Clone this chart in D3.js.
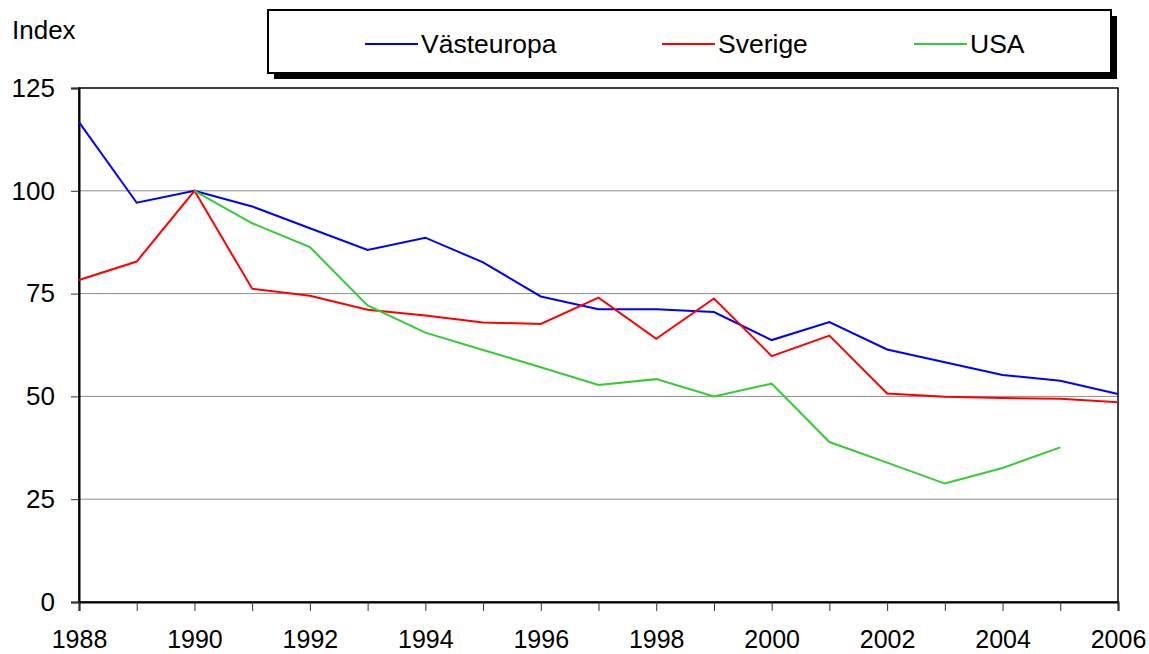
<!DOCTYPE html>
<html>
<head>
<meta charset="utf-8">
<script src="https://cdn.jsdelivr.net/npm/d3@7"></script>
<style>
  body { margin: 0; background: #fff; }
  text { font-family: "Liberation Sans", Arial, sans-serif; fill: #000; }
</style>
</head>
<body>
<div id="chart"></div>
<script>
const width = 1149;
const height = 654;

const years = d3.range(1988, 2007);
const vasteuropa = [116.7, 97.1, 100, 96.2, 90.9, 85.6, 88.6, 82.6, 74.3, 71.2, 71.2, 70.5, 63.7, 68.1, 61.4, 58.3, 55.2, 53.8, 50.6];
const sverige = [78.3, 82.8, 100, 76.2, 74.5, 71.1, 69.7, 68.0, 67.6, 74.0, 64.0, 73.8, 59.8, 64.8, 50.7, 49.9, 49.6, 49.4, 48.6];
const usa = [null, null, 100, 92.1, 86.3, 72.1, 65.5, 61.3, 57.1, 52.8, 54.2, 50.0, 53.1, 38.9, 33.9, 28.8, 32.6, 37.6, null];
const seriesNames = ["Västeuropa", "Sverige", "USA"];
const seriesColors = ["#0000ff", "#ff0000", "#33cc33"];
const yTicks = [0, 25, 50, 75, 100, 125];
const xLabels = [1988, 1990, 1992, 1994, 1996, 1998, 2000, 2002, 2004, 2006];

const margin = {left: 79, right: 31, top: 88, bottom: 52};

const svg = d3.select("#chart")
    .append("svg")
    .attr("width", width)
    .attr("height", height);

const x = d3.scaleLinear()
    .domain([1988, 2006])
    .range([margin.left, width - margin.right]);

const y = d3.scaleLinear()
    .domain([0, 125])
    .range([height - margin.bottom, margin.top]);

// gridlines
svg.selectAll("line.grid")
    .data(yTicks.filter(d => d > 0 && d < 125))
    .enter()
    .append("line")
    .attr("class", "grid")
    .attr("x1", x(1988))
    .attr("x2", x(2006))
    .attr("y1", d => y(d))
    .attr("y2", d => y(d))
    .attr("stroke", "#8c8c8c")
    .attr("stroke-width", 1);

// plot frame
svg.append("rect")
    .attr("x", x(1988))
    .attr("y", y(125))
    .attr("width", x(2006) - x(1988))
    .attr("height", y(0) - y(125))
    .attr("fill", "none")
    .attr("stroke", "#000")
    .attr("stroke-width", 1.5);

// y axis
const yAxis = svg.append("g")
    .attr("transform", `translate(${x(1988)},0)`)
    .call(d3.axisLeft(y).tickValues(yTicks).tickSize(8).tickPadding(16));
yAxis.select(".domain").attr("stroke", "#000").attr("stroke-width", 2);
yAxis.selectAll("text").style("font-size", "26px").attr("font-family", null);
yAxis.selectAll("line").attr("stroke", "#333");

// x axis
const xAxis = svg.append("g")
    .attr("transform", `translate(0,${y(0)})`)
    .call(d3.axisBottom(x).tickValues(years).tickSize(9).tickPadding(19)
        .tickFormat(d => xLabels.includes(d) ? d : ""));
xAxis.select(".domain").attr("stroke", "#000").attr("stroke-width", 2);
xAxis.selectAll("text").style("font-size", "25px").attr("font-family", null);
xAxis.selectAll("line").attr("stroke", "#333");

svg.append("text")
    .attr("x", 12)
    .attr("y", 39)
    .style("font-size", "26px")
    .text("Index");

// lines
const line = d3.line()
    .defined(d => d[1] != null)
    .x(d => x(d[0]))
    .y(d => y(d[1]));

[vasteuropa, sverige, usa].forEach(function(vals, i) {
    svg.append("path")
        .datum(years.map((yr, j) => [yr, vals[j]]))
        .attr("d", line)
        .attr("fill", "none")
        .attr("stroke", seriesColors[i])
        .attr("stroke-width", 2);
});

// legend
const legend = svg.append("g");
legend.append("rect")
    .attr("x", 274).attr("y", 16)
    .attr("width", 843).attr("height", 63)
    .attr("fill", "#000");
legend.append("rect")
    .attr("x", 268).attr("y", 10)
    .attr("width", 843).attr("height", 63)
    .attr("fill", "#fff")
    .attr("stroke", "#000")
    .attr("stroke-width", 2);

const legendX = [365, 662, 914];
seriesNames.forEach(function(name, i) {
    legend.append("line")
        .attr("x1", legendX[i]).attr("x2", legendX[i] + 53)
        .attr("y1", 44).attr("y2", 44)
        .attr("stroke", seriesColors[i])
        .attr("stroke-width", 2);
    legend.append("text")
        .attr("x", legendX[i] + 56)
        .attr("y", 53)
        .style("font-size", "26.5px")
        .text(name);
});
</script>
</body>
</html>
